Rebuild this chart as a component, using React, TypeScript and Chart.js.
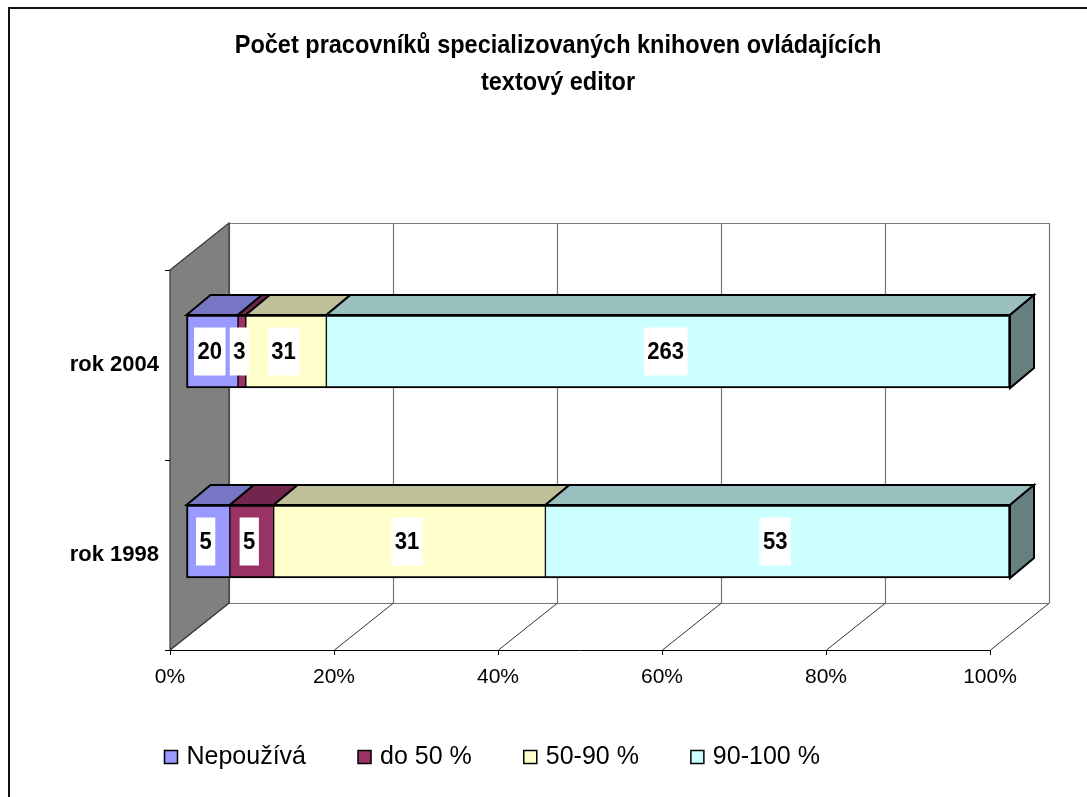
import React, { useEffect, useRef } from "react";
import { Chart, registerables } from "chart.js";

Chart.register(...registerables);

// ---------- data ----------
const categories = ["rok 2004", "rok 1998"];
const seriesNames = ["Nepoužívá", "do 50 %", "50-90 %", "90-100 %"];
const nepouziva = [20, 5];
const do50 = [3, 5];
const od50do90 = [31, 31];
const od90do100 = [263, 53];
const xTickValues = [0, 20, 40, 60, 80, 100];
const titleLines = [
  "Počet pracovníků specializovaných knihoven ovládajících",
  "textový editor",
];

// ---------- styles ----------
const frontColors = ["#9999FF", "#993366", "#FFFFCC", "#CCFFFF"];
const topColors = ["#7676C4", "#73264D", "#BFBF99", "#99BFBF"];
const sideColors = ["#4D4D80", "#4D1A33", "#808066", "#668080"];
const FONT = "'Liberation Sans', Arial, Helvetica, sans-serif";

const WALL_DX = 59;
const WALL_DY = -47;
const BAR_DX = 16;
const BAR_DY = -13.5;
const BAR_SCALE = 824 / 820;
const BAR_DEPTH_DX = 24;
const BAR_DEPTH_DY = -20;

const seriesCounts = [nepouziva, do50, od50do90, od90do100];
const totals = categories.map((_, j) =>
  seriesCounts.reduce((s, arr) => s + arr[j], 0)
);
const seriesPercent = seriesCounts.map((arr) =>
  arr.map((v, j) => (v / totals[j]) * 100)
);

function condensedText(ctx: any, txt: string, x: number, y: number, sx: number) {
  ctx.save();
  ctx.translate(x, y);
  ctx.scale(sx, 1);
  ctx.fillText(txt, 0, 0);
  ctx.restore();
}

const threeDPlugin = {
  id: "threeD",
  beforeDraw(chart: any) {
    const { ctx, chartArea: a, scales } = chart;
    const xs = scales.x;
    ctx.save();
    ctx.fillStyle = "#fff";
    ctx.fillRect(0, 0, chart.width, chart.height);
    // outer border
    ctx.strokeStyle = "#111";
    ctx.lineWidth = 2;
    ctx.strokeRect(9, 8, 3000, 3000);
    // title
    ctx.fillStyle = "#000";
    ctx.font = `bold 25px ${FONT}`;
    ctx.textAlign = "center";
    ctx.textBaseline = "middle";
    condensedText(ctx, titleLines[0], 558, 46, 0.94);
    condensedText(ctx, titleLines[1], 558, 83, 0.94);

    const L = a.left, R = a.right, T = a.top, B = a.bottom;
    // back wall
    ctx.fillStyle = "#fff";
    ctx.fillRect(L + WALL_DX, T + WALL_DY, R - L, B - T);
    // back wall gridlines
    ctx.strokeStyle = "#777";
    ctx.lineWidth = 1.2;
    xTickValues.forEach((v) => {
      const px = Math.round(xs.getPixelForValue(v)) + WALL_DX + 0.5;
      ctx.beginPath();
      ctx.moveTo(px, T + WALL_DY);
      ctx.lineTo(px, B + WALL_DY);
      ctx.stroke();
    });
    // back wall outline
    ctx.beginPath();
    ctx.moveTo(L + WALL_DX, T + WALL_DY + 0.5);
    ctx.lineTo(R + WALL_DX, T + WALL_DY + 0.5);
    ctx.moveTo(L + WALL_DX, B + WALL_DY + 0.5);
    ctx.lineTo(R + WALL_DX, B + WALL_DY + 0.5);
    ctx.stroke();
    // floor diagonals
    ctx.strokeStyle = "#333";
    ctx.lineWidth = 1;
    xTickValues.forEach((v) => {
      const px = Math.round(xs.getPixelForValue(v)) + 0.5;
      ctx.beginPath();
      ctx.moveTo(px, B);
      ctx.lineTo(px + WALL_DX, B + WALL_DY);
      ctx.stroke();
    });
    // left wall
    ctx.fillStyle = "#808080";
    ctx.strokeStyle = "#3a3a3a";
    ctx.lineWidth = 1.2;
    ctx.beginPath();
    ctx.moveTo(L, T);
    ctx.lineTo(L + WALL_DX, T + WALL_DY);
    ctx.lineTo(L + WALL_DX, B + WALL_DY);
    ctx.lineTo(L, B);
    ctx.closePath();
    ctx.fill();
    ctx.stroke();
    ctx.restore();
  },
  beforeDatasetsDraw(chart: any) {
    const { ctx, chartArea: a } = chart;
    ctx.save();
    ctx.translate(a.left + BAR_DX, BAR_DY);
    ctx.scale(BAR_SCALE, 1);
    ctx.translate(-a.left, 0);
  },
  afterDatasetsDraw(chart: any) {
    const { ctx, chartArea: a } = chart;
    ctx.restore();
    const tx = (p: number) => a.left + BAR_DX + (p - a.left) * BAR_SCALE;
    const ty = (p: number) => p + BAR_DY;
    ctx.save();
    ctx.lineJoin = "miter";
    const nSets = chart.data.datasets.length;
    const rects: any[] = [];
    for (let i = 0; i < nSets; i++) {
      const meta = chart.getDatasetMeta(i);
      meta.data.forEach((el: any, j: number) => {
        const p = el.getProps(["x", "y", "base", "height"], true);
        const l = tx(Math.min(p.x, p.base));
        const r = tx(Math.max(p.x, p.base));
        const t = ty(p.y - p.height / 2);
        const b = ty(p.y + p.height / 2);
        rects.push({ i, j, l, r, t, b, cy: ty(p.y) });
        // top face
        ctx.fillStyle = topColors[i];
        ctx.strokeStyle = "#000";
        ctx.lineWidth = 2;
        ctx.beginPath();
        ctx.moveTo(l, t);
        ctx.lineTo(l + BAR_DEPTH_DX, t + BAR_DEPTH_DY);
        ctx.lineTo(r + BAR_DEPTH_DX, t + BAR_DEPTH_DY);
        ctx.lineTo(r, t);
        ctx.closePath();
        ctx.fill();
        ctx.stroke();
        if (i === nSets - 1) {
          ctx.fillStyle = sideColors[i];
          ctx.beginPath();
          ctx.moveTo(r, t);
          ctx.lineTo(r + BAR_DEPTH_DX, t + BAR_DEPTH_DY);
          ctx.lineTo(r + BAR_DEPTH_DX, b + BAR_DEPTH_DY);
          ctx.lineTo(r, b);
          ctx.closePath();
          ctx.fill();
          ctx.stroke();
        }
      });
    }
    // data labels
    const sx = 0.92;
    ctx.font = `bold 24px ${FONT}`;
    ctx.textAlign = "center";
    ctx.textBaseline = "middle";
    rects.forEach((rc) => {
      const txt = String(seriesCounts[rc.i][rc.j]);
      const w = ctx.measureText(txt).width * sx + 7;
      const h = 48;
      const cx = (rc.l + rc.r) / 2 - 2.5;
      ctx.fillStyle = "#fff";
      ctx.fillRect(cx - w / 2, rc.cy - h / 2, w, h);
      ctx.fillStyle = "#000";
      condensedText(ctx, txt, cx, rc.cy + 1, sx);
    });
    ctx.restore();
  },
  afterDraw(chart: any) {
    const { ctx } = chart;
    ctx.save();
    ctx.font = `25px ${FONT}`;
    ctx.textAlign = "left";
    ctx.textBaseline = "middle";
    let x = 164.5;
    const y = 750.5;
    const box = 13;
    seriesNames.forEach((name, i) => {
      ctx.fillStyle = frontColors[i];
      ctx.fillRect(x, y, box, box);
      ctx.strokeStyle = "#000";
      ctx.lineWidth = 1.5;
      ctx.strokeRect(x, y, box, box);
      ctx.fillStyle = "#000";
      ctx.fillText(name, x + 22, y + box / 2);
      x += 22 + ctx.measureText(name).width + 52;
    });
    ctx.restore();
  },
};

export default function App() {
  const ref = useRef<HTMLCanvasElement | null>(null);
  useEffect(() => {
    if (!ref.current) return;
    const chart = new Chart(ref.current, {
      type: "bar",
      data: {
        labels: categories,
        datasets: seriesNames.map((name, i) => ({
          label: name,
          data: seriesPercent[i],
          backgroundColor: frontColors[i],
          borderColor: "#000",
          borderWidth: {
            top: 2,
            bottom: 2,
            left: i === 0 ? 2 : 1,
            right: i === seriesNames.length - 1 ? 2 : 1,
          },
          borderSkipped: false,
          barThickness: 73,
          clip: false,
        })),
      },
      options: {
        indexAxis: "y",
        animation: false,
        responsive: true,
        maintainAspectRatio: false,
        events: [],
        layout: { padding: { left: 50, right: 97, top: 270, bottom: 97 } },
        plugins: {
          legend: { display: false },
          title: { display: false },
          tooltip: { enabled: false },
        },
        scales: {
          x: {
            type: "linear",
            stacked: true,
            min: 0,
            max: 100,
            afterFit: (s: any) => {
              s.height = 50;
            },
            afterBuildTicks: (s: any) => {
              s.ticks = xTickValues.map((v) => ({ value: v }));
            },
            ticks: {
              callback: (v: any) => v + "%",
              color: "#000",
              font: { family: FONT, size: 21 },
              padding: 10,
              maxRotation: 0,
              autoSkip: false,
            },
            grid: {
              drawOnChartArea: false,
              drawTicks: true,
              tickLength: 5,
              color: "#000",
            },
            border: { display: true, color: "#000", width: 1 },
          },
          y: {
            type: "category",
            stacked: true,
            afterFit: (s: any) => {
              s.width = 120;
            },
            ticks: {
              color: "#000",
              font: { family: FONT, size: 22, weight: "bold" },
              padding: 6,
            },
            grid: {
              offset: true,
              drawOnChartArea: false,
              drawTicks: true,
              tickLength: 5,
              color: "#000",
            },
            border: { display: false },
          },
        },
      },
      plugins: [threeDPlugin],
    } as any);
    return () => chart.destroy();
  }, []);
  return (
    <div
      style={{
        position: "fixed",
        left: 0,
        top: 0,
        width: 1087,
        height: 797,
        overflow: "hidden",
        background: "#fff",
      }}
    >
      <canvas ref={ref} />
    </div>
  );
}
